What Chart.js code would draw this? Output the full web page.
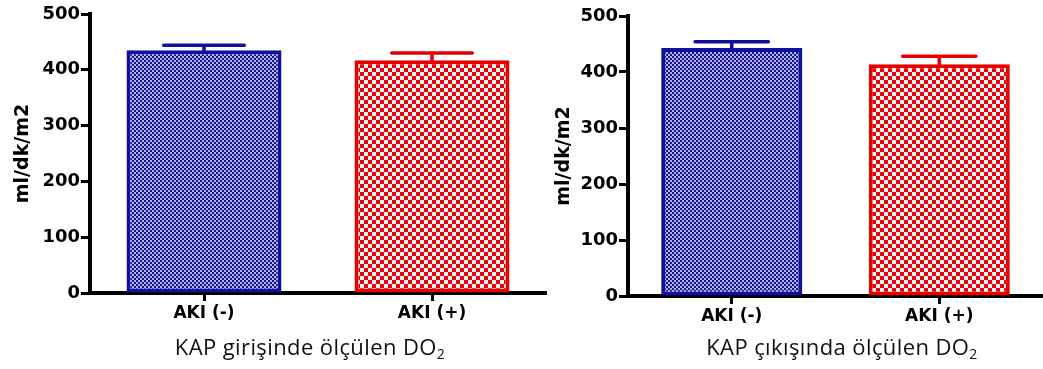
<!DOCTYPE html>
<html>
<head>
<meta charset="utf-8">
<script src="https://cdn.jsdelivr.net/npm/chart.js@4"></script>
<style>
  body { margin: 0; background: #fff; width: 1043px; height: 369px; overflow: hidden; position: relative; }
  canvas { position: absolute; top: 0; }
  .sub { position: absolute; width: 400px; text-align: center; font-family: 'Open Sans', sans-serif; font-size: 22px; letter-spacing: 0.4px; color: #111; line-height: 1; }
  .sub sub { font-size: 14px; vertical-align: -4px; line-height: 0; }
</style>
</head>
<body>
<canvas id="c1" width="548" height="335" style="left:0"></canvas>
<canvas id="c2" width="495" height="335" style="left:548px"></canvas>
<div class="sub" style="left:110px; top:335px">KAP girişinde ölçülen DO<sub>2</sub></div>
<div class="sub" style="left:642px; top:335px">KAP çıkışında ölçülen DO<sub>2</sub></div>
<script>
// values (mean + upper SEM)
const groups = ['AKI (-)', 'AKI (+)'];
const inletMeans = [435, 417];
const inletErrors = [9, 13];
const outletMeans = [443, 414];
const outletErrors = [11, 14];
const yTicks = [0, 100, 200, 300, 400, 500];
const yTitle = 'ml/dk/m2';

const BLUE = '#1010a0';
const RED = '#e60000';

function checker(size, dark, light) {
  const c = document.createElement('canvas');
  c.width = size * 2; c.height = size * 2;
  const g = c.getContext('2d');
  g.fillStyle = light; g.fillRect(0, 0, size * 2, size * 2);
  g.fillStyle = dark;
  g.fillRect(0, 0, size, size);
  g.fillRect(size, size, size, size);
  return c;
}

// draws the upper error bar above each bar
const errorBars = {
  id: 'errorBars',
  afterDatasetsDraw(chart, args, opts) {
    const ctx = chart.ctx;
    const yScale = chart.scales.y;
    const meta = chart.getDatasetMeta(0);
    const ds = chart.data.datasets[0];
    meta.data.forEach((bar, i) => {
      const top = yScale.getPixelForValue(ds.data[i]);
      const end = yScale.getPixelForValue(ds.data[i] + opts.errors[i]);
      const half = bar.width * 0.26;
      ctx.save();
      ctx.strokeStyle = ds.borderColor[i];
      ctx.lineWidth = 3.5;
      ctx.lineCap = 'round';
      ctx.beginPath();
      ctx.moveTo(bar.x, top);
      ctx.lineTo(bar.x, end);
      ctx.moveTo(bar.x - half, end);
      ctx.lineTo(bar.x + half, end);
      ctx.stroke();
      ctx.restore();
    });
  }
};

function makeChart(id, means, errors, yWidth, xHeight, topPad, rightPad, titlePad) {
  const ctx = document.getElementById(id).getContext('2d');
  const bluePat = ctx.createPattern(checker(2, '#14149a', '#b4b4e2'), 'repeat');
  const redPat = ctx.createPattern(checker(4, '#e8000a', '#fff4f4'), 'repeat');
  return new Chart(ctx, {
    type: 'bar',
    data: {
      labels: groups,
      datasets: [{
        data: means,
        backgroundColor: [bluePat, redPat],
        borderColor: [BLUE, RED],
        borderWidth: 4,
        borderSkipped: false,
        barPercentage: 0.68,
        categoryPercentage: 1
      }]
    },
    options: {
      responsive: false,
      animation: false,
      devicePixelRatio: 1,
      layout: { padding: { top: topPad, right: rightPad, left: 0, bottom: 0 } },
      plugins: {
        legend: { display: false },
        tooltip: { enabled: false },
        errorBars: { errors: errors }
      },
      scales: {
        x: {
          afterFit(scale) { scale.height = xHeight; },
          border: { color: '#000', width: 4 },
          grid: { offset: false, drawOnChartArea: false, drawTicks: true, tickLength: 8, tickColor: '#000', tickWidth: 3 },
          ticks: { color: '#000', padding: 2, font: { family: 'DejaVu Sans', weight: 'bold', size: 17 } }
        },
        y: {
          min: 0,
          max: 500,
          afterFit(scale) { scale.width = yWidth; },
          afterBuildTicks(scale) { scale.ticks = yTicks.map(v => ({ value: v })); },
          border: { color: '#000', width: 4 },
          grid: { drawOnChartArea: false, drawTicks: true, tickLength: 9, tickColor: '#000', tickWidth: 3 },
          ticks: { color: '#000', padding: 1, font: { family: 'DejaVu Sans', weight: 'bold', size: 18 } },
          title: {
            display: true,
            text: yTitle,
            color: '#000',
            padding: { top: titlePad, bottom: 0 },
            font: { family: 'DejaVu Sans', weight: 'bold', size: 19 }
          }
        }
      }
    },
    plugins: [errorBars]
  });
}

makeChart('c1', inletMeans, inletErrors, 90, 42, 14, 2, 12);
makeChart('c2', outletMeans, outletErrors, 80, 39, 16, 0, 5);
</script>
</body>
</html>
